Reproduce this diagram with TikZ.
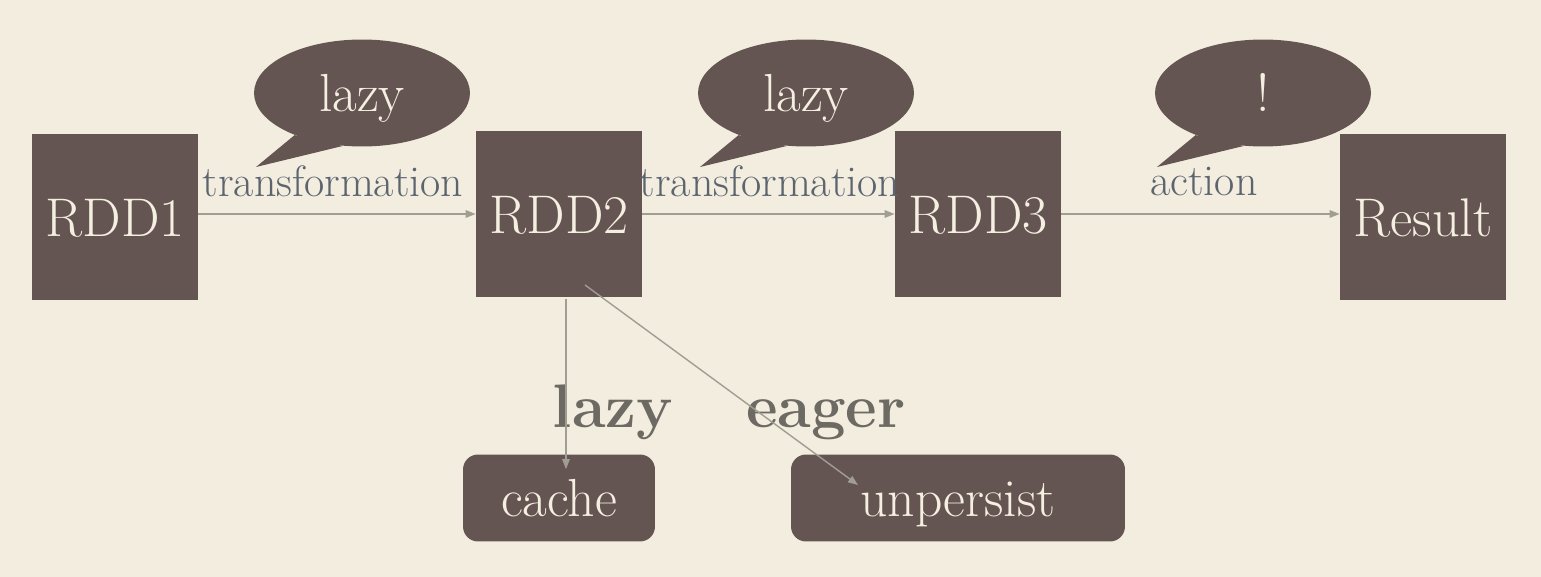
\documentclass[tikz,border=0pt]{standalone}
\usepackage{fontspec}
\usetikzlibrary{shapes.geometric,arrows.meta}

\definecolor{paper}{RGB}{243,237,224}
\definecolor{boxbrown}{RGB}{101,85,82}
\definecolor{cream}{RGB}{245,239,226}
\definecolor{linegray}{RGB}{160,157,146}
\definecolor{slate}{RGB}{92,100,110}
\definecolor{modegray}{RGB}{108,106,98}

\begin{document}
\begin{tikzpicture}[x=0.02cm,y=-0.02cm,
  >={Triangle[length=0.2cm,width=0.15cm]},
  box/.style={fill=boxbrown,text=cream,minimum size=3.32cm,inner sep=0pt,
    text height=0.8cm,text depth=0pt,font=\fontsize{31}{36}\selectfont},
  pill/.style={fill=boxbrown,text=cream,rounded corners=0.3cm,minimum height=1.74cm,
    inner sep=0pt,text height=0.76cm,text depth=0pt,font=\fontsize{30.5}{35}\selectfont},
  bubble/.style={ellipse,fill=boxbrown,text=cream,minimum width=4.32cm,minimum height=2.14cm,
    inner sep=0pt,text height=0.74cm,text depth=0pt,font=\fontsize{30.5}{35}\selectfont},
  arrowtext/.style={anchor=base,text=slate,inner sep=0pt,font=\fontsize{25}{30}\selectfont},
  modetext/.style={anchor=base,text=modegray,inner sep=0pt,font=\fontsize{35}{40}\selectfont\bfseries},
  flow/.style={draw=linegray,line width=0.8pt,->}]

\fill[paper] (0,0) rectangle (1541,577);

\node[box] (rdd1) at (115,217) {RDD1};
\node[box] (rdd2) at (559,214) {RDD2};
\node[box] (rdd3) at (978,214) {RDD3};
\node[box] (result) at (1423,217) {Result};

\node[pill,minimum width=3.84cm] (cache) at (559,498) {cache};
\node[pill,minimum width=6.68cm] (unpersist) at (958,498) {unpersist};

% speech bubbles
\node[bubble] (lazy1) at (362,93) {lazy};
\coordinate (tip1) at (256,167);
\fill[boxbrown] (lazy1.212) -- (tip1) -- (lazy1.250) -- cycle;

\node[bubble] (lazy2) at (806,93) {lazy};
\coordinate (tip2) at (700,167);
\fill[boxbrown] (lazy2.212) -- (tip2) -- (lazy2.250) -- cycle;

\node[bubble] (bang) at (1263,93) {!};
\coordinate (tip3) at (1157,167);
\fill[boxbrown] (bang.212) -- (tip3) -- (bang.250) -- cycle;

\node[arrowtext] (trans1) at (333,197) {transformation};
\node[arrowtext] (trans2) at (770,197) {transformation};
\node[arrowtext] (action) at (1204,196) {action};

\node[modetext] (lazymode) at (613,427) {lazy};
\node[modetext] (eagermode) at (826,427) {eager};

\draw[flow] (rdd1.east |- rdd2.west) -- (rdd2.west);
\draw[flow] (rdd2.east) -- (rdd3.west);
\draw[flow] (rdd3.east) -- (result.west |- rdd3.east);
\draw[flow] ([xshift=0.14cm,yshift=-0.04cm]rdd2.south) -- ([xshift=0.14cm,yshift=-0.3cm]cache.north);
\draw[flow] ([shift={(26,71)}]rdd2.center) -- ([shift={(-100,-13)}]unpersist.center);

\end{tikzpicture}
\end{document}
